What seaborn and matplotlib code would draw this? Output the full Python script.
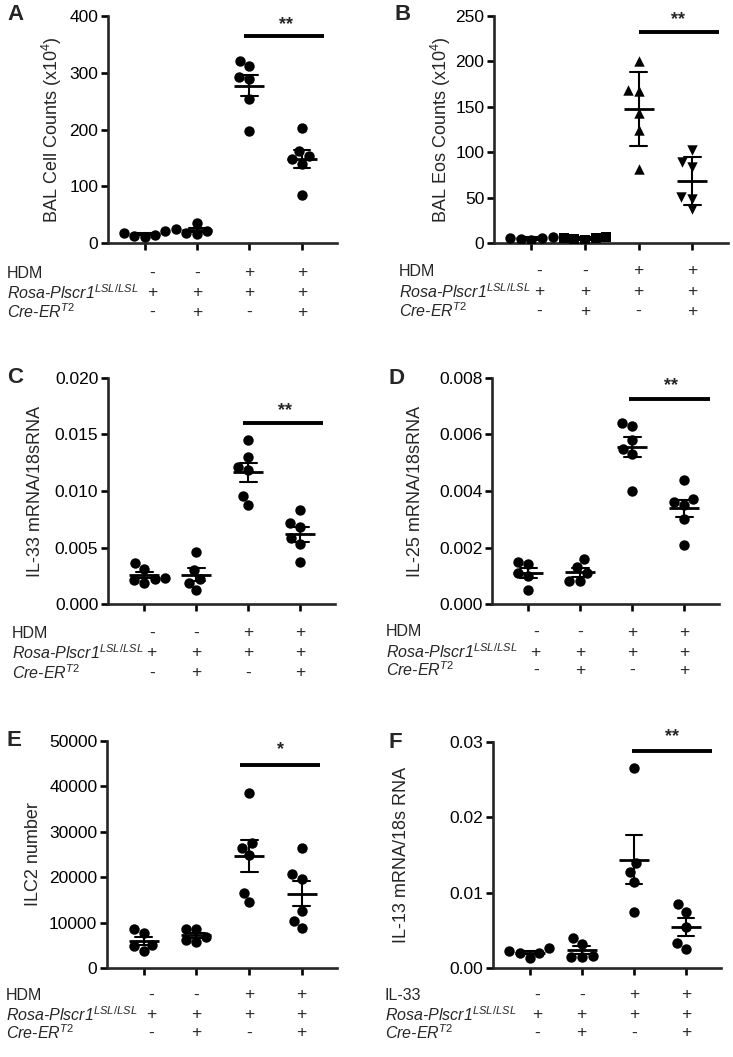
import numpy as np
import pandas as pd
import seaborn as sns
import matplotlib.pyplot as plt
from matplotlib.ticker import FormatStrFormatter, MultipleLocator
from matplotlib.transforms import blended_transform_factory

groups = ['g1', 'g2', 'g3', 'g4']
hdm_row = ['-', '-', '+', '+']
rosa_row = ['+', '+', '+', '+']
cre_row = ['-', '+', '-', '+']

# A: BAL cell counts (x10^4)
bal_cells = [[14, 21, 13, 10, 18],
             [18, 36, 24, 15, 21],
             [312, 320, 289, 292, 254, 198],
             [202, 162, 154, 148, 140, 84]]
# B: BAL eos counts (x10^4)
bal_eos = [[3, 6, 4, 7, 5],
           [5, 7, 4, 6, 3],
           [200, 169, 167, 143, 124, 82],
           [102, 89, 84, 51, 49, 37]]
# C: IL-33 mRNA/18sRNA
il33 = [[0.0036, 0.0031, 0.0023, 0.0021, 0.0022, 0.0019],
        [0.0046, 0.0030, 0.0022, 0.0019, 0.0012],
        [0.0145, 0.0130, 0.0119, 0.0121, 0.0096, 0.0088],
        [0.0083, 0.0072, 0.0068, 0.0058, 0.0053, 0.0037]]
# D: IL-25 mRNA/18sRNA
il25 = [[0.0015, 0.0014, 0.0010, 0.0011, 0.0005],
        [0.0016, 0.0013, 0.0011, 0.0008, 0.0008],
        [0.0064, 0.0063, 0.0058, 0.0055, 0.0053, 0.0040],
        [0.0044, 0.0036, 0.0037, 0.0035, 0.0030, 0.0021]]
# E: ILC2 number
ilc2 = [[8570, 7690, 5130, 4760, 3660],
        [8570, 8570, 6810, 5640, 6230],
        [38600, 27470, 26520, 24830, 16480, 14500],
        [26370, 20730, 19560, 12600, 10330, 8790]]
# F: IL-13 mRNA/18s RNA
il13 = [[0.0026, 0.0022, 0.0020, 0.0020, 0.0013],
        [0.0040, 0.0032, 0.0015, 0.0016, 0.0015],
        [0.0265, 0.0139, 0.0127, 0.0114, 0.0075],
        [0.0085, 0.0075, 0.0055, 0.0033, 0.0025]]

sns.set_style('ticks')
plt.rcParams['font.family'] = ['Liberation Sans', 'DejaVu Sans']
plt.rcParams['mathtext.fontset'] = 'custom'
plt.rcParams['mathtext.rm'] = 'Liberation Sans'
plt.rcParams['mathtext.it'] = 'Liberation Sans:italic'
plt.rcParams['mathtext.bf'] = 'Liberation Sans:bold'

W, H = 733, 1057
fig = plt.figure(figsize=(W / 100, H / 100), dpi=100)

panels = [
    dict(vals=bal_cells, letter='A', box=(108, 337, 16, 243), ymax=400, step=100, fmt='%d',
         ylabel='BAL Cell Counts (x10$^{4}$)', ylab_x=52, let_xy=(7, 15), tab_x=7,
         rows=(273, 293, 312), first='HDM', sig=(1.9, 3.43, 365), star=('**', 2.7, 385),
         markers=['o'] * 4, err='se'),
    dict(vals=bal_eos, letter='B', box=(494, 728, 16, 243), ymax=250, step=50, fmt='%d',
         ylabel='BAL Eos Counts (x10$^{4}$)', ylab_x=441, let_xy=(394, 15), tab_x=399,
         rows=(271, 292, 311), first='HDM', sig=(2.0, 3.5, 232), star=('**', 2.73, 246),
         markers=['o', 's', '^', 'v'], err='sd'),
    dict(vals=il33, letter='C', box=(108, 335, 378, 604), ymax=0.020, step=0.005, fmt='%.3f',
         ylabel='IL-33 mRNA/18sRNA', ylab_x=36, let_xy=(7, 377), tab_x=12,
         rows=(633, 653, 673), first='HDM', sig=(1.9, 3.43, 0.016), star=('**', 2.7, 0.0171),
         markers=['o'] * 4, err='se'),
    dict(vals=il25, letter='D', box=(492, 719, 378, 604), ymax=0.008, step=0.002, fmt='%.3f',
         ylabel='IL-25 mRNA/18sRNA', ylab_x=416, let_xy=(388, 378), tab_x=386,
         rows=(632, 652, 670), first='HDM', sig=(1.94, 3.5, 0.00724), star=('**', 2.75, 0.00774),
         markers=['o'] * 4, err='se'),
    dict(vals=ilc2, letter='E', box=(107, 337, 741, 968), ymax=50000, step=10000, fmt='%d',
         ylabel='ILC2 number', ylab_x=33, let_xy=(7, 741), tab_x=6,
         rows=(995, 1015, 1033), first='HDM', sig=(1.83, 3.35, 44745), star=('*', 2.6, 48000),
         markers=['o'] * 4, err='se'),
    dict(vals=il13, letter='F', box=(493, 721, 742, 968), ymax=0.03, step=0.01, fmt='%.2f',
         ylabel='IL-13 mRNA/18s RNA', ylab_x=401, let_xy=(388, 742), tab_x=385,
         rows=(995, 1015, 1033), first='IL-33', sig=(1.96, 3.5, 0.0288), star=('**', 2.74, 0.0307),
         markers=['o'] * 4, err='se'),
]

for p in panels:
    l, r, t, b = p['box']
    ax = fig.add_axes([l / W, 1 - b / H, (r - l) / W, (b - t) / H])
    df = pd.DataFrame({'grp': np.repeat(groups, [len(v) for v in p['vals']]),
                       'val': np.concatenate([np.array(v, dtype=float) for v in p['vals']])})
    for g, m in zip(groups, p['markers']):
        sns.swarmplot(data=df[df.grp == g], x='grp', y='val', order=groups, marker=m,
                      color='black', size=7.5, linewidth=0, ax=ax)
    sns.pointplot(data=df, x='grp', y='val', order=groups, errorbar=p['err'], capsize=0.32,
                  color='black', marker='_', markersize=21, markeredgewidth=2.0,
                  linestyle='none', err_kws={'linewidth': 1.5}, ax=ax)
    ax.set_xlim(-0.7, 3.67)
    ax.set_ylim(0, p['ymax'])
    ax.yaxis.set_major_locator(MultipleLocator(p['step']))
    ax.yaxis.set_major_formatter(FormatStrFormatter(p['fmt']))
    ax.set_xticks(range(4))
    ax.set_xticklabels([])
    ax.set_xlabel('')
    ax.set_ylabel('')
    sns.despine(ax=ax)
    for s in ['left', 'bottom']:
        ax.spines[s].set_linewidth(1.9)
    ax.tick_params(axis='both', width=1.9, length=5, labelsize=12.5, colors='black', pad=2)

    # significance bar
    x0, x1, ys = p['sig']
    ax.plot([x0, x1], [ys, ys], color='black', lw=2.8, solid_capstyle='butt', clip_on=False)
    st, sx, sy = p['star']
    ax.text(sx, sy, st, ha='center', va='center', fontsize=13, fontweight='bold')

    # y label and panel letter
    fig.text(p['ylab_x'] / W, 1 - (t + b) / 2 / H, p['ylabel'], rotation=90,
             ha='center', va='center', fontsize=13)
    fig.text(p['let_xy'][0] / W, 1 - p['let_xy'][1] / H, p['letter'], ha='left',
             va='center', fontsize=16, fontweight='bold')

    # condition table under the axis
    tr = blended_transform_factory(ax.transData, fig.transFigure)
    row_names = [p['first'], 'Rosa-Plscr1$^{LSL/LSL}$', 'Cre-ER$^{T2}$']
    row_vals = [hdm_row, rosa_row, cre_row]
    for k, (name, vals, yy) in enumerate(zip(row_names, row_vals, p['rows'])):
        fig.text(p['tab_x'] / W, 1 - yy / H, name, ha='left', va='center', fontsize=11.5,
                 style='normal' if k == 0 else 'italic')
        for i, v in enumerate(vals):
            ax.text(i + (0.14 if i == 0 else 0.0), 1 - yy / H, v, transform=tr,
                    ha='center', va='center', fontsize=12.5)

fig.savefig('out.png', dpi=100)
